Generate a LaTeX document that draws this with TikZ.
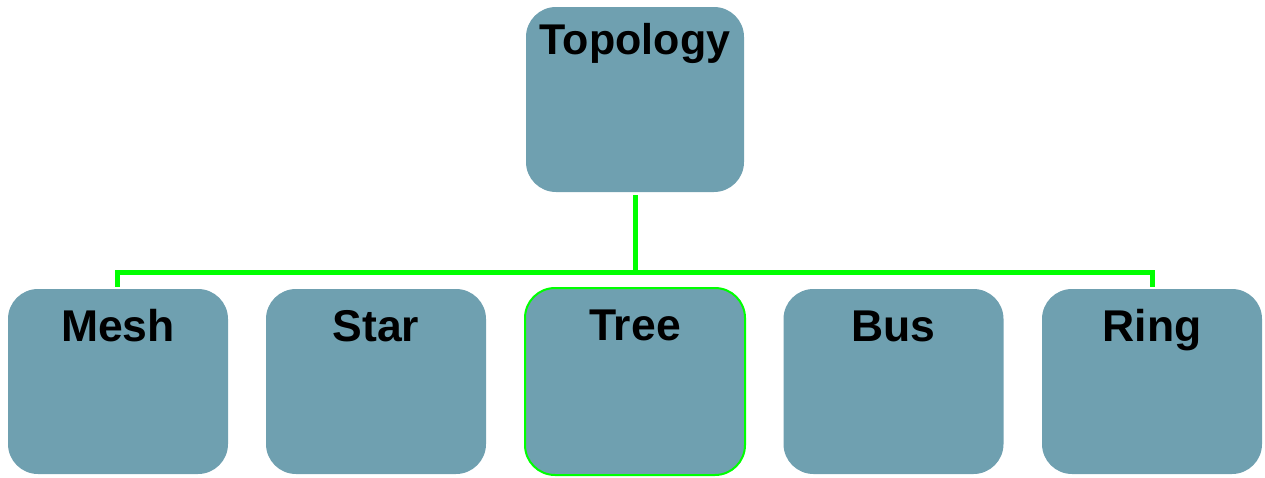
\documentclass[tikz,border=0pt]{standalone}
\usepackage{fontspec}
\setmainfont{Liberation Sans}
\definecolor{boxfill}{HTML}{6FA0B0}
\definecolor{wiregreen}{HTML}{00FF00}
\begin{document}
\begin{tikzpicture}[x=1pt,y=-1pt,
  tbox/.style={draw=none, fill=boxfill, rounded corners=30pt,
    minimum width=220pt, minimum height=185pt, inner sep=0pt},
  lbl/.style={anchor=base, inner sep=0pt, font=\fontsize{44.5}{50}\selectfont\bfseries},
  toplbl/.style={lbl, font=\fontsize{43}{48}\selectfont\bfseries},
  wire/.style={draw=wiregreen, line width=5pt}]
\useasboundingbox (0,0) rectangle (1265,477);

% root and leaves
\node[tbox, minimum width=218pt] (top) at (635,99.5) {};
\node[tbox] (mesh) at (118,381.5) {};
\node[tbox] (star) at (376,381.5) {};
\node[tbox, draw=wiregreen, line width=2pt, minimum width=220pt, minimum height=187pt] (tree) at (635,381.5) {};
\node[tbox] (bus) at (893.5,381.5) {};
\node[tbox] (ring) at (1152,381.5) {};

% labels
\node[toplbl] (ttop) at ([yshift=-47.5pt]top.north) {Topology};
\node[lbl] (tmesh) at ([yshift=-52.5pt]mesh.north) {Mesh};
\node[lbl] (tstar) at ([yshift=-52.5pt]star.north) {Star};
\node[lbl] (ttree) at ([yshift=-53.5pt]tree.north) {Tree};
\node[lbl] (tbus) at ([yshift=-52.5pt]bus.north) {Bus};
\node[lbl] (tring) at ([yshift=-52.5pt]ring.north) {Ring};

% connectors
\coordinate (joint) at (635,272);
\draw[wire] ([yshift=-3pt]top.south) -- (joint);
\draw[wire] ([shift={(-0.5pt,2pt)}]mesh.north) |- (joint) -| ([shift={(0.5pt,2pt)}]ring.north);
\end{tikzpicture}
\end{document}
